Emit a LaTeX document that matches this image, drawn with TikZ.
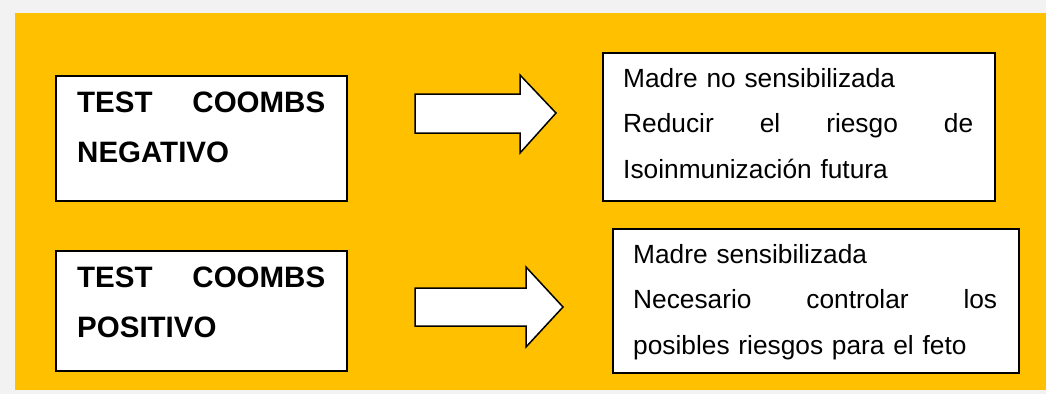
\documentclass[tikz,border=0pt]{standalone}
\usepackage{fontspec}
\setmainfont{Liberation Sans}
\usetikzlibrary{calc}
\definecolor{bggray}{HTML}{F2F2F2}
\definecolor{gold}{HTML}{FFC000}
% a justified line: words spread over the given width
\newcommand{\fullline}[2]{\leavevmode\hbox to #1{#2}}
\tikzset{
    box/.style={
        draw=black, fill=white, line width=1.5pt, inner sep=0pt
    },
    headtxt/.style={
        font=\fontsize{29.5}{50}\selectfont\bfseries, align=left, inner sep=0pt, anchor=north west
    },
    bodytxt/.style={
        font=\fontsize{26.3}{45.5}\selectfont, align=left, inner sep=0pt, anchor=north west
    },
    bigarrow/.style={
        draw=black, fill=white, line width=1.5pt, line join=miter
    }
}

\begin{document}
\begin{tikzpicture}[x=1pt,y=-1pt]

% --- background ---
    \fill[bggray] (0,0) rectangle (1046,394);
    \fill[gold] (15,13) rectangle (1046,390);

% left boxes
    \node[box, anchor=north west, minimum width=291, minimum height=125] (negbox) at (55,75) {};
    \node[box, anchor=north west, minimum width=291, minimum height=120] (posbox) at (55,250) {};

% right boxes
    \node[box, anchor=north west, minimum width=392, minimum height=148] (nosens) at (602,52) {};
    \node[box, anchor=north west, minimum width=406, minimum height=144] (sens) at (612,228) {};

% texts in the left boxes
    \node[headtxt, text width=248] (negtxt) at ($ (negbox.north west) + (22,17) $)
        {\fullline{248pt}{TEST\hfill COOMBS}\\NEGATIVO};
    \node[headtxt, text width=248] (postxt) at ($ (posbox.north west) + (22,17) $)
        {\fullline{248pt}{TEST\hfill COOMBS}\\POSITIVO};

% texts in the right boxes
    \node[bodytxt, text width=350] (nosenstxt) at ($ (nosens.north west) + (21,16) $)
        {Madre no sensibilizada\\\fullline{350pt}{Reducir\hfill el\hfill riesgo\hfill de}\\Isoinmunización futura};
    \node[bodytxt, text width=364] (senstxt) at ($ (sens.north west) + (21,16) $)
        {Madre sensibilizada\\\fullline{364pt}{Necesario\hfill controlar\hfill los}\\posibles riesgos para el feto};

% arrows (shaft start, then relative)
    \coordinate (a1) at (415,94);
    \coordinate (a2) at (415,288);
    \draw[bigarrow] (a1) -- ++(105,0) -- ++(0,-19) -- ++(36,38) -- ++(-36,40) -- ++(0,-20) -- ++(-105,0) -- cycle;
    \draw[bigarrow] (a2) -- ++(111,0) -- ++(0,-21) -- ++(37,40) -- ++(-37,40) -- ++(0,-21) -- ++(-111,0) -- cycle;

\end{tikzpicture}
\end{document}
